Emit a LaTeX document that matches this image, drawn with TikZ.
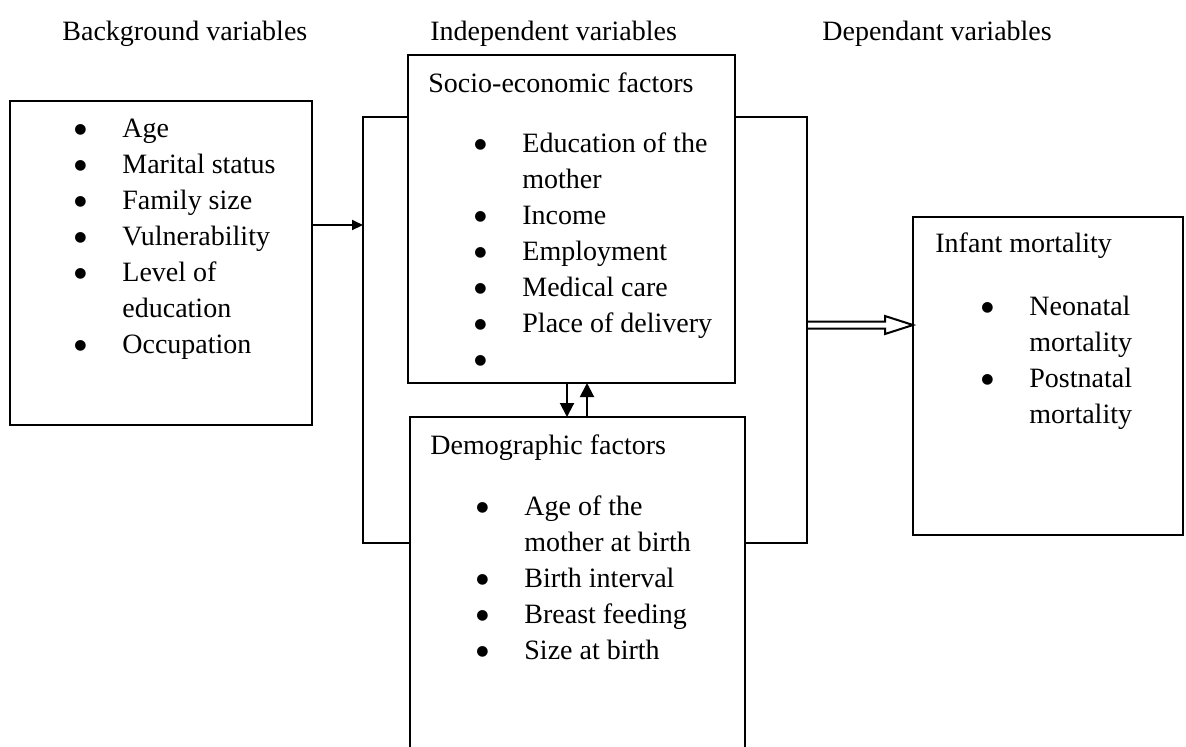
\documentclass[tikz,border=0pt]{standalone}
\usepackage{fontspec}
\setmainfont{Liberation Serif}
\newfontfamily\symfont{DejaVu Sans}
\usetikzlibrary{arrows.meta}

\newcommand{\itm}{\makebox[0pt]{\raisebox{1.7pt}{\symfont\fontsize{7}{8}\selectfont ●}}\hspace{21pt}}
\newcommand{\cnt}{\hspace{21pt}}

\begin{document}
\begin{tikzpicture}[x=0.5pt,y=-0.5pt,
  box/.style={draw,line width=1pt,fill=white,anchor=north west,inner sep=0pt,outer sep=0pt},
  txt/.style={anchor=base west,inner sep=0pt,font=\fontsize{14}{18}\selectfont}]
  \useasboundingbox (0,0) rectangle (1186,746);
  % column headings
  \node[txt] (bgHead) at (62,40) {Background variables};
  \node[txt] (inHead) at (430,40) {Independent variables};
  \node[txt] (dpHead) at (822,40) {Dependant variables};
  % boxes
  \node[box,minimum width=151pt,minimum height=162pt] (bgBox) at (10,101) {};
  \node[box,fill=none,minimum width=222pt,minimum height=213pt] (frame) at (363,117) {};
  \node[box,minimum width=163.5pt,minimum height=164pt] (seBox) at (408,55) {};
  \node[box,minimum width=167.5pt,minimum height=170pt] (dmBox) at (410,417) {};
  \node[box,minimum width=135pt,minimum height=159pt] (imBox) at (913,217) {};
  % texts
  \node[txt] (bgList) at (80,137) {\begin{tabular}[t]{@{}l@{}}
    \itm Age\\ \itm Marital status\\ \itm Family size\\ \itm Vulnerability\\
    \itm Level of\\ \cnt education\\ \itm Occupation\end{tabular}};
  \node[txt] (seTitle) at (428,92) {Socio-economic factors};
  \node[txt] (seList) at (480,152) {\begin{tabular}[t]{@{}l@{}}
    \itm Education of the\\ \cnt mother\\ \itm Income\\ \itm Employment\\
    \itm Medical care\\ \itm Place of delivery\\ \itm\end{tabular}};
  \node[txt] (dmTitle) at (430,454) {Demographic factors};
  \node[txt] (dmList) at (482,515) {\begin{tabular}[t]{@{}l@{}}
    \itm Age of the\\ \cnt mother at birth\\ \itm Birth interval\\
    \itm Breast feeding\\ \itm Size at birth\end{tabular}};
  \node[txt] (imTitle) at (935,252) {Infant mortality};
  \node[txt] (imList) at (987,315) {\begin{tabular}[t]{@{}l@{}}
    \itm Neonatal\\ \cnt mortality\\ \itm Postnatal\\ \cnt mortality\end{tabular}};
  % arrows
  \draw[line width=1pt,-{Triangle[length=5.5pt,width=5pt]}] ([yshift=19pt]bgBox.east) -- ([yshift=19pt]bgBox.east -| frame.west);
  \draw[line width=1pt,-{Triangle[length=7pt,width=7pt]}] ([xshift=-2.25pt]seBox.south) -- ([xshift=-2.25pt]seBox.south |- dmBox.north);
  \draw[line width=1pt,-{Triangle[length=7pt,width=7pt]}] ([xshift=7.75pt]seBox.south |- dmBox.north) -- ([xshift=7.75pt]seBox.south);
  \coordinate (dTail) at ([yshift=2.5pt]frame.east);
  \coordinate (dTip) at (dTail -| imBox.west);
  \draw[line width=1pt] (dTail) ++(0,-3.5) -- ++(78,0) -- ++(0,-5.5) -- (dTip) -- ++(-28,9) -- ++(0,-5.5) -- ++(-78,0);
\end{tikzpicture}
\end{document}
